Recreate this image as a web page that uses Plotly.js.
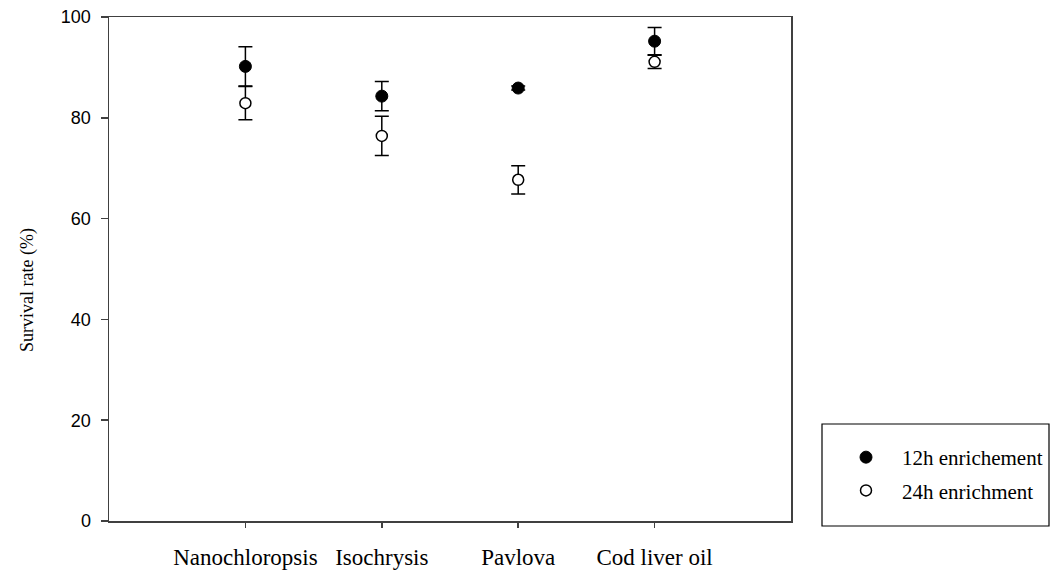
<!DOCTYPE html>
<html>
<head>
<meta charset="utf-8">
<script src="https://cdn.plot.ly/plotly-3.0.1.min.js"></script>
<style>html,body{margin:0;padding:0;background:#fff;}#chart{width:1052px;height:571px;}</style>
</head>
<body>
<div id="chart"></div>
<script>
const categories = ["Nanochloropsis", "Isochrysis", "Pavlova", "Cod liver oil"];
const catPos = [0, 1, 2, 3];
const series12hName = "12h enrichement";
const series12h = [90.2, 84.3, 85.9, 95.2];
const series12hErr = [3.9, 2.9, 0.4, 2.7];
const series24hName = "24h enrichment";
const series24h = [82.9, 76.4, 67.7, 91.1];
const series24hErr = [3.3, 3.9, 2.8, 1.3];
const yTicks = [0, 20, 40, 60, 80, 100];
const yTitle = "Survival rate (%)";

const serif = "Liberation Serif, Times New Roman, serif";
const sans = "Liberation Sans, Arial, sans-serif";

const traces = [
  {
    type: "scatter", mode: "markers", name: series12hName,
    x: catPos, y: series12h, legendgroup: "a",
    marker: {symbol: "circle", size: 12, color: "#000", line: {color: "#000", width: 1}},
    error_y: {type: "data", array: series12hErr, visible: true, color: "#000", thickness: 1.5, width: 7}
  },
  {
    type: "scatter", mode: "markers", name: series24hName,
    x: catPos, y: series24h, legendgroup: "b",
    marker: {symbol: "circle", size: 11, color: "#fff", line: {color: "#000", width: 1.5}},
    error_y: {type: "data", array: series24hErr, visible: true, color: "#000", thickness: 1.5, width: 7}
  }
];

const layout = {
  width: 1052, height: 571,
  margin: {l: 109, r: 261, t: 17, b: 50, autoexpand: false},
  paper_bgcolor: "#fff", plot_bgcolor: "#fff",
  showlegend: true,
  legend: {
    x: (830 - 109) / 682, xref: "paper", xanchor: "left",
    y: (521 - 437) / 504, yanchor: "top",
    bgcolor: "rgba(0,0,0,0)", borderwidth: 0,
    font: {family: serif, size: 21, color: "#000"},
    traceorder: "grouped", tracegroupgap: 3,
    itemwidth: 62
  },
  xaxis: {
    range: [-1, 4], tickvals: catPos, ticktext: categories,
    showgrid: false, zeroline: false,
    showline: true, linecolor: "#404040", linewidth: 1.5, mirror: true,
    ticks: "outside", ticklen: 5, tickcolor: "#404040", tickwidth: 1.5,
    tickfont: {family: serif, size: 23, color: "#000"},
    ticklabelstandoff: 10
  },
  yaxis: {
    range: [0, 100], tickvals: yTicks,
    showgrid: false, zeroline: false,
    showline: true, linecolor: "#404040", linewidth: 1.5, mirror: true,
    ticks: "outside", ticklen: 7, tickcolor: "#404040", tickwidth: 1.5,
    tickfont: {family: sans, size: 18, color: "#000"},
    ticklabelstandoff: 6
  },
  annotations: [
    {text: yTitle, xref: "paper", yref: "paper",
     x: (27 - 109) / 682, y: (521 - 290) / 504, xanchor: "center", yanchor: "middle",
     textangle: -90, showarrow: false,
     font: {family: serif, size: 18, color: "#000"}}
  ],
  shapes: [
    {type: "rect", xref: "paper", yref: "paper",
     x0: (822 - 109) / 682, x1: (1049 - 109) / 682, y0: (521 - 526) / 504, y1: (521 - 424) / 504,
     line: {color: "#000", width: 1.2}, fillcolor: "rgba(0,0,0,0)"}
  ]
};

Plotly.newPlot("chart", traces, layout, {displayModeBar: false, staticPlot: true});
</script>
</body>
</html>
